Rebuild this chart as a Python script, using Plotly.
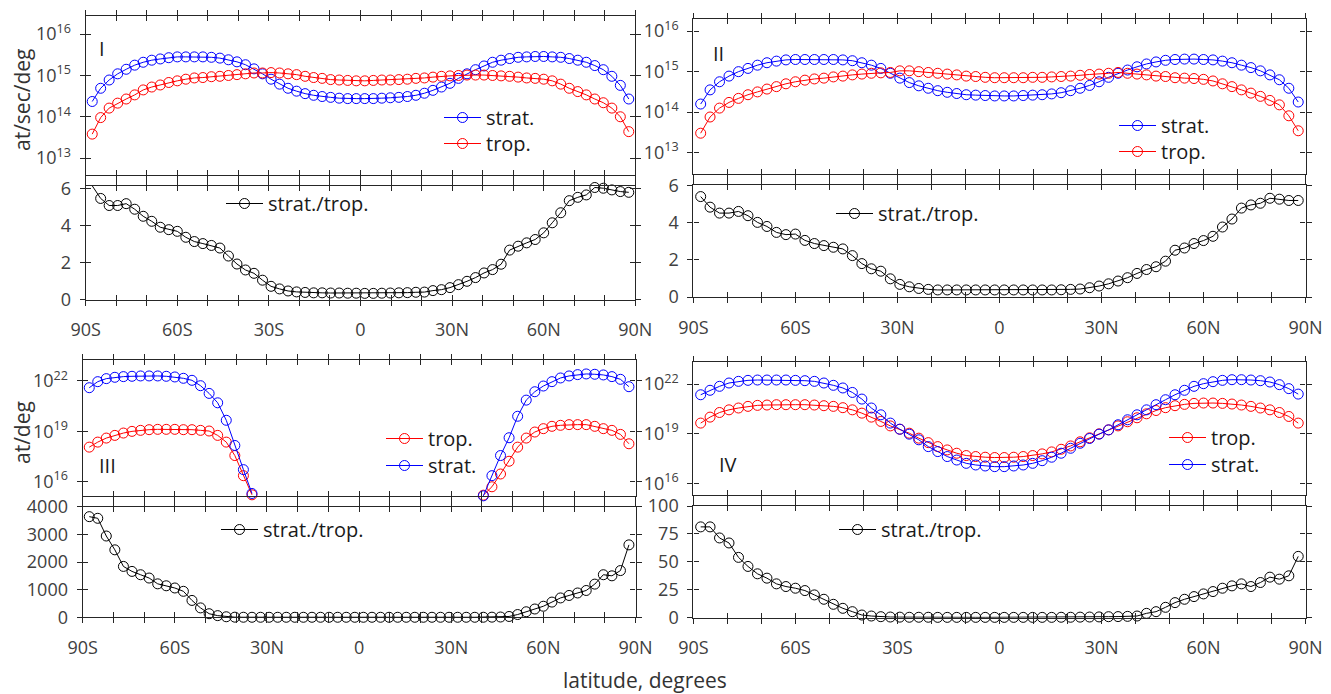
import plotly.graph_objects as go

W, H = 1331, 694
OFF = 8  # browser default body margin: shift the drawing so it lands where intended
FONT = "Open Sans"
AXC = "#262626"
TICKC = "#404040"

# ---------------- data ----------------
# Gaussian latitudes (northern half), degrees
LAT_N = [1.40, 4.19, 6.98, 9.77, 12.56, 15.35, 18.14, 20.93, 23.72, 26.51, 29.30,
         32.09, 34.88, 37.67, 40.46, 43.25, 46.05, 48.84, 51.63, 54.42, 57.21, 60.00,
         62.79, 65.58, 68.37, 71.16, 73.95, 76.74, 79.53, 82.32, 85.10, 87.86]
LAT = [-v for v in reversed(LAT_N)] + LAT_N

X_MAJOR = [-90, -60, -30, 0, 30, 60, 90]
X_MINOR = [-80, -70, -50, -40, -20, -10, 10, 20, 40, 50, 70, 80]
X_LABELS_A = ["90S", "60S", "30S", "0", "30N", "60N", "90N"]
X_LABELS_B = ["90S", "60S", "30N", "0", "30N", "60N", "90N"]

# Panel I  (log10 of at/sec/deg)
I_STRAT_LOG10 = [14.37, 14.69, 14.89, 15.04, 15.15, 15.25, 15.32, 15.37, 15.40, 15.43, 15.45, 15.45,
                 15.45, 15.45, 15.44, 15.42, 15.38, 15.33, 15.26, 15.16, 15.04, 14.91, 14.79, 14.69,
                 14.62, 14.56, 14.52, 14.49, 14.47, 14.45, 14.44, 14.44,
                 14.44, 14.44, 14.45, 14.46, 14.47, 14.49, 14.52, 14.57, 14.64, 14.72, 14.81, 14.93,
                 15.04, 15.14, 15.23, 15.32, 15.37, 15.41, 15.44, 15.45, 15.46, 15.46, 15.45, 15.44,
                 15.41, 15.37, 15.32, 15.24, 15.14, 14.98, 14.76, 14.43]
I_TROP_LOG10 = [13.58, 13.98, 14.21, 14.33, 14.43, 14.53, 14.65, 14.72, 14.77, 14.83, 14.87, 14.91,
                14.94, 14.95, 14.97, 14.98, 15.00, 15.02, 15.04, 15.06, 15.06, 15.07, 15.06, 15.04,
                15.02, 14.98, 14.95, 14.93, 14.90, 14.89, 14.88, 14.87,
                14.87, 14.88, 14.89, 14.89, 14.90, 14.91, 14.93, 14.94, 14.96, 14.98, 14.99, 15.00,
                15.01, 15.01, 15.01, 15.00, 14.99, 14.98, 14.96, 14.94, 14.93, 14.91, 14.87, 14.79,
                14.69, 14.61, 14.53, 14.43, 14.34, 14.21, 14.00, 13.64]
I_RATIO = [6.13, 5.45, 5.07, 5.07, 5.17, 4.87, 4.49, 4.22, 3.90, 3.77, 3.68, 3.36, 3.13, 3.02, 2.92, 2.78,
           2.35, 1.92, 1.60, 1.42, 1.05, 0.72, 0.58, 0.47, 0.42, 0.39, 0.37, 0.37, 0.36, 0.36, 0.35, 0.35,
           0.34, 0.34, 0.35, 0.36, 0.37, 0.38, 0.40, 0.41, 0.49, 0.54, 0.65, 0.81, 0.99, 1.19, 1.44, 1.62,
           1.91, 2.67, 2.88, 3.06, 3.24, 3.60, 4.14, 4.68, 5.33, 5.51, 5.64, 6.04, 6.00, 5.91, 5.82, 5.78]

# Panel II (log10 of at/sec/deg)
II_STRAT_LOG10 = [14.20, 14.55, 14.75, 14.89, 15.00, 15.08, 15.16, 15.22, 15.26, 15.29, 15.30, 15.30,
                  15.30, 15.30, 15.30, 15.29, 15.27, 15.22, 15.16, 15.08, 14.96, 14.84, 14.73, 14.65,
                  14.59, 14.53, 14.49, 14.46, 14.43, 14.42, 14.41, 14.40,
                  14.40, 14.40, 14.41, 14.42, 14.43, 14.45, 14.48, 14.53, 14.59, 14.66, 14.75, 14.86,
                  14.96, 15.04, 15.12, 15.19, 15.24, 15.28, 15.30, 15.31, 15.31, 15.30, 15.29, 15.26,
                  15.22, 15.16, 15.10, 15.02, 14.92, 14.80, 14.59, 14.25]
II_TROP_LOG10 = [13.48, 13.88, 14.10, 14.24, 14.34, 14.43, 14.50, 14.57, 14.63, 14.70, 14.75, 14.79,
                 14.82, 14.84, 14.87, 14.89, 14.92, 14.94, 14.96, 14.97, 14.98, 15.02, 15.02, 15.00,
                 14.98, 14.96, 14.94, 14.92, 14.89, 14.88, 14.86, 14.85,
                 14.85, 14.85, 14.85, 14.86, 14.86, 14.87, 14.88, 14.89, 14.91, 14.93, 14.94, 14.96,
                 14.98, 14.96, 14.94, 14.92, 14.89, 14.88, 14.85, 14.84, 14.83, 14.81, 14.77, 14.70,
                 14.63, 14.55, 14.47, 14.39, 14.29, 14.18, 13.91, 13.54]
II_RATIO = [5.41, 4.84, 4.52, 4.52, 4.61, 4.38, 4.02, 3.80, 3.48, 3.36, 3.39, 3.05, 2.88, 2.77, 2.68, 2.59,
            2.23, 1.80, 1.52, 1.39, 0.98, 0.68, 0.55, 0.46, 0.41, 0.38, 0.38, 0.38, 0.38, 0.38, 0.38, 0.38,
            0.38, 0.38, 0.38, 0.38, 0.38, 0.38, 0.39, 0.41, 0.43, 0.50, 0.59, 0.71, 0.86, 1.04, 1.27, 1.48,
            1.63, 1.93, 2.52, 2.64, 2.88, 3.04, 3.27, 3.77, 4.20, 4.79, 4.96, 5.05, 5.32, 5.27, 5.20, 5.20]

# Panel III (log10 of at/deg); None = no value
III_TROP_LOG10 = [18.06, 18.36, 18.60, 18.76, 18.90, 19.00, 19.06, 19.10, 19.12, 19.12, 19.12, 19.10,
                  19.10, 19.06, 19.02, 18.76, 18.36, 17.56, 16.36, 15.22,
                  None, None, None, None, None, None, None, None, None, None, None, None, None,
                  None, None, None, None, None, None, None, None, None, None, None, None, None,
                  15.20, 15.70, 16.46, 17.22, 18.06, 18.60, 18.96, 19.16, 19.30, 19.36, 19.40, 19.40,
                  19.40, 19.30, 19.16, 19.06, 18.82, 18.26]
III_STRAT_LOG10 = [21.60, 21.96, 22.14, 22.22, 22.26, 22.28, 22.30, 22.30, 22.30, 22.28, 22.24, 22.16,
                   22.04, 21.72, 21.26, 20.70, 19.66, 18.16, 16.72, 15.30,
                   None, None, None, None, None, None, None, None, None, None, None, None, None,
                   None, None, None, None, None, None, None, None, None, None, None, None, None,
                   15.16, 16.36, 17.56, 18.62, 19.90, 20.86, 21.36, 21.70, 21.96, 22.18, 22.30, 22.38,
                   22.42, 22.40, 22.36, 22.26, 22.10, 21.66]
III_RATIO = [3640, 3580, 2940, 2440, 1840, 1660, 1540, 1420, 1210, 1140, 1060, 940, 610, 340, 130, 60,
             20, 5, 2, 1, 1, 1, 1, 1, 1, 1, 1, 1, 1, 1, 1, 1,
             1, 1, 1, 1, 1, 1, 1, 1, 1, 1, 1, 1, 1, 1, 2, 5,
             10, 30, 100, 200, 300, 400, 550, 700, 790, 880, 970, 1200, 1540, 1500, 1690, 2620]

# Panel IV (log10 of at/deg)
IV_TROP_LOG10 = [19.64, 20.00, 20.28, 20.44, 20.55, 20.65, 20.71, 20.73, 20.75, 20.75, 20.75, 20.75,
                 20.73, 20.69, 20.65, 20.57, 20.44, 20.24, 20.00, 19.74, 19.47, 19.27, 19.03, 18.73,
                 18.46, 18.22, 18.02, 17.82, 17.68, 17.62, 17.58, 17.56,
                 17.56, 17.58, 17.62, 17.68, 17.78, 17.90, 18.06, 18.26, 18.51, 18.75, 18.99, 19.23,
                 19.47, 19.72, 19.96, 20.20, 20.40, 20.57, 20.69, 20.77, 20.83, 20.85, 20.85, 20.83,
                 20.79, 20.73, 20.65, 20.55, 20.44, 20.28, 20.04, 19.64]
IV_STRAT_LOG10 = [21.35, 21.62, 21.86, 22.06, 22.16, 22.22, 22.24, 22.24, 22.24, 22.24, 22.22, 22.20,
                  22.16, 22.06, 21.92, 21.76, 21.49, 21.09, 20.55, 20.14, 19.64, 19.27, 18.97, 18.63,
                  18.22, 17.92, 17.62, 17.41, 17.21, 17.11, 17.05, 17.01,
                  17.01, 17.05, 17.11, 17.21, 17.37, 17.58, 17.82, 18.12, 18.42, 18.71, 18.97, 19.23,
                  19.54, 19.84, 20.14, 20.44, 20.75, 21.05, 21.35, 21.62, 21.86, 22.02, 22.14, 22.22,
                  22.26, 22.26, 22.24, 22.20, 22.12, 21.96, 21.72, 21.39]
IV_RATIO = [81.3, 81.3, 71.4, 66.9, 54.0, 45.9, 39.3, 35.4, 30.3, 27.9, 26.4, 24.3, 20.4, 16.5, 12.0, 8.4,
            5.4, 2.4, 1.5, 0.9, 0.6, 0.5, 0.4, 0.4, 0.4, 0.3, 0.3, 0.3, 0.3, 0.3, 0.3, 0.3,
            0.3, 0.3, 0.3, 0.3, 0.3, 0.3, 0.4, 0.4, 0.5, 0.6, 0.7, 0.9, 1.0, 1.2, 1.5, 3.9,
            5.4, 9.3, 13.5, 16.5, 18.9, 21.3, 23.4, 26.4, 28.5, 30.3, 27.9, 31.5, 36.3, 34.5, 37.5, 54.9]


def pow10(vals):
    return [None if v is None else 10 ** v for v in vals]


# ---------------- layout helpers ----------------
def px(x):
    return (x - OFF) / W


def py(y):
    return 1 - (y - OFF) / H


def key(n, letter):
    return f"{letter}axis" if n == 1 else f"{letter}axis{n}"


def ref(n, letter):
    return letter if n == 1 else f"{letter}{n}"


LOG_A = ([1e13, 1e14, 1e15, 1e16], ["10<sup>13</sup>", "10<sup>14</sup>", "10<sup>15</sup>", "10<sup>16</sup>"])
LOG_B = ([1e16, 1e19, 1e22], ["10<sup>16</sup>", "10<sup>19</sup>", "10<sup>22</sup>"])

SUBPLOTS = [
    dict(xp=(85.7, 635.3), yp=(16, 175), ytype="log", yr=[12.59, 16.44], yt=LOG_A, xl=None),
    dict(xp=(85.7, 635.3), yp=(186, 299.7), ytype="linear", yr=[0, 6.12],
         yt=([0, 2, 4, 6], ["0", "2", "4", "6"]), xl=X_LABELS_A),
    dict(xp=(693.4, 1305.5), yp=(19, 173.7), ytype="log", yr=[12.48, 16.30], yt=LOG_A, xl=None),
    dict(xp=(693.4, 1305.5), yp=(184.7, 297), ytype="linear", yr=[0, 6.05],
         yt=([0, 2, 4, 6], ["0", "2", "4", "6"]), xl=X_LABELS_B),
    dict(xp=(82.7, 635.5), yp=(360, 496), ytype="log", yr=[15.15, 23.25], yt=LOG_B, xl=None),
    dict(xp=(82.7, 635.5), yp=(506.7, 617.3), ytype="linear", yr=[0, 4000],
         yt=([0, 1000, 2000, 3000, 4000], ["0", "1000", "2000", "3000", "4000"]), xl=X_LABELS_B),
    dict(xp=(693.4, 1305.5), yp=(362.3, 495.3), ytype="log", yr=[15.28, 23.31], yt=LOG_B, xl=None),
    dict(xp=(693.4, 1305.5), yp=(506, 617.7), ytype="linear", yr=[0, 100],
         yt=([0, 25, 50, 75, 100], ["0", "25", "50", "75", "100"]), xl=X_LABELS_A),
]
NS = len(SUBPLOTS)

fig = go.Figure()
layout = {}
tickfont = dict(family=FONT, size=18, color=TICKC)
TL = 5

for i, sp in enumerate(SUBPLOTS):
    n = i + 1
    m = n + NS
    xdom = [px(sp["xp"][0]), px(sp["xp"][1])]
    ydom = [py(sp["yp"][1]), py(sp["yp"][0])]
    common_x = dict(range=[-90, 90], tickmode="array", tickvals=X_MAJOR, showgrid=False,
                    zeroline=False, showline=True, linecolor=AXC, linewidth=1.2, ticklen=TL,
                    tickwidth=1, tickcolor=AXC, mirror="ticks", automargin=False)
    common_y = dict(type=sp["ytype"], range=sp["yr"], tickmode="array", tickvals=sp["yt"][0],
                    showgrid=False, zeroline=False, showline=True, linecolor=AXC, linewidth=1.2,
                    ticklen=TL, tickwidth=1, tickcolor=AXC, mirror="ticks", automargin=False)
    xa = dict(common_x, domain=xdom, anchor=ref(n, "y"), ticks="outside",
              minor=dict(tickmode="array", tickvals=X_MINOR, ticks="outside", ticklen=TL,
                         tickwidth=1, tickcolor=AXC, showgrid=False))
    if sp["xl"] is not None:
        xa.update(showticklabels=True, ticktext=sp["xl"], tickfont=tickfont, ticklabelstandoff=9)
    else:
        xa.update(showticklabels=False)
    ya = dict(common_y, domain=ydom, anchor=ref(n, "x"), ticks="outside",
              ticktext=sp["yt"][1], tickfont=tickfont, ticklabelstandoff=5)
    layout[key(n, "x")] = xa
    layout[key(n, "y")] = ya
    # overlay axes carrying the inward half of each tick
    layout[key(m, "x")] = dict(common_x, overlaying=ref(n, "x"), anchor=ref(n, "y"),
                               ticks="inside", showticklabels=False, side="bottom",
                               minor=dict(tickmode="array", tickvals=X_MINOR, ticks="inside",
                                          ticklen=TL, tickwidth=1, tickcolor=AXC, showgrid=False))
    layout[key(m, "y")] = dict(common_y, overlaying=ref(n, "y"), anchor=ref(n, "x"),
                               ticks="inside", showticklabels=False, side="left")
    fig.add_trace(go.Scatter(x=[None], y=[None], xaxis=ref(m, "x"), yaxis=ref(m, "y"),
                             showlegend=False, hoverinfo="skip"))

BLUE = "#0000ff"
RED = "#ff0000"
BLACK = "#000000"

legfont = dict(family=FONT, size=20, color="#1a1a1a")
LEG_DX, LEG_DY = 24, 19
leg_count = [0]


def series(n, xs, ys, name, color, leg_xy):
    # each series has its own one-item legend, placed by its marker centre (pixels)
    leg_count[0] += 1
    k = leg_count[0]
    lname = "legend" if k == 1 else f"legend{k}"
    layout[lname] = dict(x=px(leg_xy[0] - LEG_DX), y=py(leg_xy[1] - LEG_DY), xanchor="left",
                         yanchor="top", bgcolor="rgba(0,0,0,0)", borderwidth=0, font=legfont,
                         itemwidth=37)
    fig.add_trace(go.Scatter(
        x=xs, y=ys, name=name, mode="lines+markers", xaxis=ref(n, "x"), yaxis=ref(n, "y"),
        line=dict(color=color, width=1),
        marker=dict(symbol="circle-open", size=10, color=color, line=dict(width=1, color=color)),
        cliponaxis=False, legend=lname, connectgaps=False, hoverinfo="skip"))


series(1, LAT, pow10(I_STRAT_LOG10), "strat.", BLUE, (463, 117))
series(1, LAT, pow10(I_TROP_LOG10), "trop.", RED, (463, 143))
series(2, LAT, I_RATIO, "strat./trop.", BLACK, (245, 203))
series(3, LAT, pow10(II_STRAT_LOG10), "strat.", BLUE, (1138, 125))
series(3, LAT, pow10(II_TROP_LOG10), "trop.", RED, (1138, 151))
series(4, LAT, II_RATIO, "strat./trop.", BLACK, (855, 213))
series(5, LAT, pow10(III_TROP_LOG10), "trop.", RED, (405, 438))
series(5, LAT, pow10(III_STRAT_LOG10), "strat.", BLUE, (405, 465))
series(6, LAT, III_RATIO, "strat./trop.", BLACK, (240, 529))
series(7, LAT, pow10(IV_TROP_LOG10), "trop.", RED, (1188, 437))
series(7, LAT, pow10(IV_STRAT_LOG10), "strat.", BLUE, (1188, 464))
series(8, LAT, IV_RATIO, "strat./trop.", BLACK, (858, 529))

ann = []
labfont = dict(family=FONT, size=20, color="#1a1a1a")
for txt, x, y in [("I", 102, 48), ("II", 718, 53), ("III", 108, 465), ("IV", 728, 464)]:
    ann.append(dict(text=txt, x=px(x), y=py(y), xref="paper", yref="paper",
                    xanchor="center", yanchor="middle", showarrow=False, font=labfont))
titlefont = dict(family=FONT, size=21, color="#333333")
ann.append(dict(text="at/sec/deg", x=px(22), y=py(100), xref="paper", yref="paper",
                textangle=-90, xanchor="center", yanchor="middle", showarrow=False, font=titlefont))
ann.append(dict(text="at/deg", x=px(22), y=py(433), xref="paper", yref="paper",
                textangle=-90, xanchor="center", yanchor="middle", showarrow=False, font=titlefont))
ann.append(dict(text="latitude, degrees", x=px(645), y=py(680), xref="paper", yref="paper",
                xanchor="center", yanchor="middle", showarrow=False, font=titlefont))

fig.update_layout(
    width=W, height=H, margin=dict(l=0, r=0, t=0, b=0, autoexpand=False),
    paper_bgcolor="white", plot_bgcolor="rgba(0,0,0,0)",
    font=dict(family=FONT, size=18, color=TICKC),
    annotations=ann, showlegend=True, **layout)

fig.write_html("out.html")
